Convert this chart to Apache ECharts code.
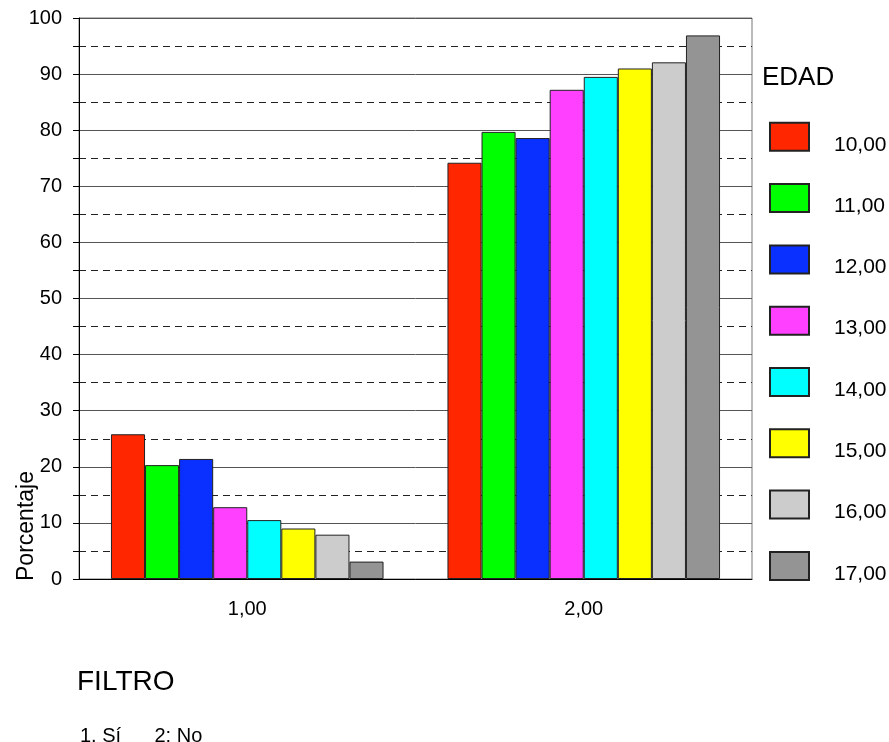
<!DOCTYPE html>
<html>
<head>
<meta charset="utf-8">
<script src="https://cdn.jsdelivr.net/npm/echarts@6/dist/echarts.min.js"></script>
<style>
html, body { margin: 0; padding: 0; background: #fff; }
#main { width: 889px; height: 742px; }
</style>
</head>
<body>
<div id="main"></div>
<script>
// categorias del eje X (FILTRO) y grupos de edad
var filtro = ['1,00', '2,00'];
var edades = ['10,00', '11,00', '12,00', '13,00', '14,00', '15,00', '16,00', '17,00'];
var colores = ['#ff2600', '#00ff00', '#0a30ff', '#ff40ff', '#00ffff', '#ffff00', '#cccccc', '#949494'];

// porcentaje por edad: [FILTRO 1, FILTRO 2]
var edad10 = [25.8, 74.2];
var edad11 = [20.3, 79.7];
var edad12 = [21.4, 78.6];
var edad13 = [12.8, 87.2];
var edad14 = [10.5, 89.5];
var edad15 = [9.0, 91.0];
var edad16 = [7.9, 92.1];
var edad17 = [3.1, 96.9];
var valores = [edad10, edad11, edad12, edad13, edad14, edad15, edad16, edad17];

var fuente = 'Liberation Sans, Arial, sans-serif';

var series = [];
for (var i = 0; i < edades.length; i++) {
	series.push({
		name: edades[i],
		type: 'bar',
		data: valores[i],
		barGap: '0%',
		barCategoryGap: '19%',
		itemStyle: { color: colores[i], borderColor: '#222', borderWidth: 1 }
	});
}

var myChart = echarts.init(document.getElementById('main'));
option = {
	animation: false,
	textStyle: { fontFamily: fuente },
	title: [
		{ text: 'EDAD', left: 762, top: 65, padding: 0, textStyle: { fontSize: 26, fontWeight: 'normal', color: '#000', fontFamily: fuente } },
		{ text: 'FILTRO', left: 77, top: 668, padding: 0, textStyle: { fontSize: 28, fontWeight: 'normal', color: '#000', fontFamily: fuente } },
		{ text: '1. Sí      2: No', left: 80, top: 726, padding: 0, textStyle: { fontSize: 20, fontWeight: 'normal', color: '#000', fontFamily: fuente } }
	],
	legend: {
		orient: 'vertical',
		left: 769,
		top: 118.3,
		padding: 0,
		icon: 'rect',
		itemWidth: 39,
		itemHeight: 28,
		itemGap: 24.3,
		data: edades,
		formatter: '{a|{name}}',
		textStyle: {
			fontSize: 21, color: '#000', fontFamily: fuente,
			rich: { a: { fontSize: 21, lineHeight: 22, color: '#000', fontFamily: fuente, padding: [16, 0, 0, 20] } }
		}
	},
	grid: {
		left: 79, right: 137, top: 18, bottom: 163,
		show: true, borderColor: '#777', borderWidth: 1, containLabel: false
	},
	xAxis: {
		type: 'category',
		data: filtro,
		axisLine: { lineStyle: { color: '#000', width: 1 } },
		axisTick: { alignWithLabel: true, length: 6, lineStyle: { color: '#000' } },
		axisLabel: { fontSize: 20, color: '#000', margin: 20 }
	},
	yAxis: {
		type: 'value',
		min: 0, max: 100, interval: 10,
		axisLine: { show: true, lineStyle: { color: '#000', width: 1 } },
		axisTick: { show: true, inside: false, length: 6, lineStyle: { color: '#000' } },
		minorTick: { show: true, splitNumber: 2, length: 6, lineStyle: { color: '#000' } },
		axisLabel: { fontSize: 20, color: '#000', margin: 17 },
		splitLine: { show: true, lineStyle: { color: '#555', width: 1 } },
		minorSplitLine: { show: true, lineStyle: { color: '#222', width: 1, type: [7, 5] } }
	},
	graphic: [
		{
			type: 'text',
			x: 27, y: 526,
			rotation: Math.PI / 2,
			style: { text: 'Porcentaje', fontSize: 23, fill: '#000', fontFamily: fuente, align: 'center', verticalAlign: 'middle' }
		}
	],
	series: series
};
myChart.setOption(option);
window.onresize = myChart.resize;
</script>
</body>
</html>
